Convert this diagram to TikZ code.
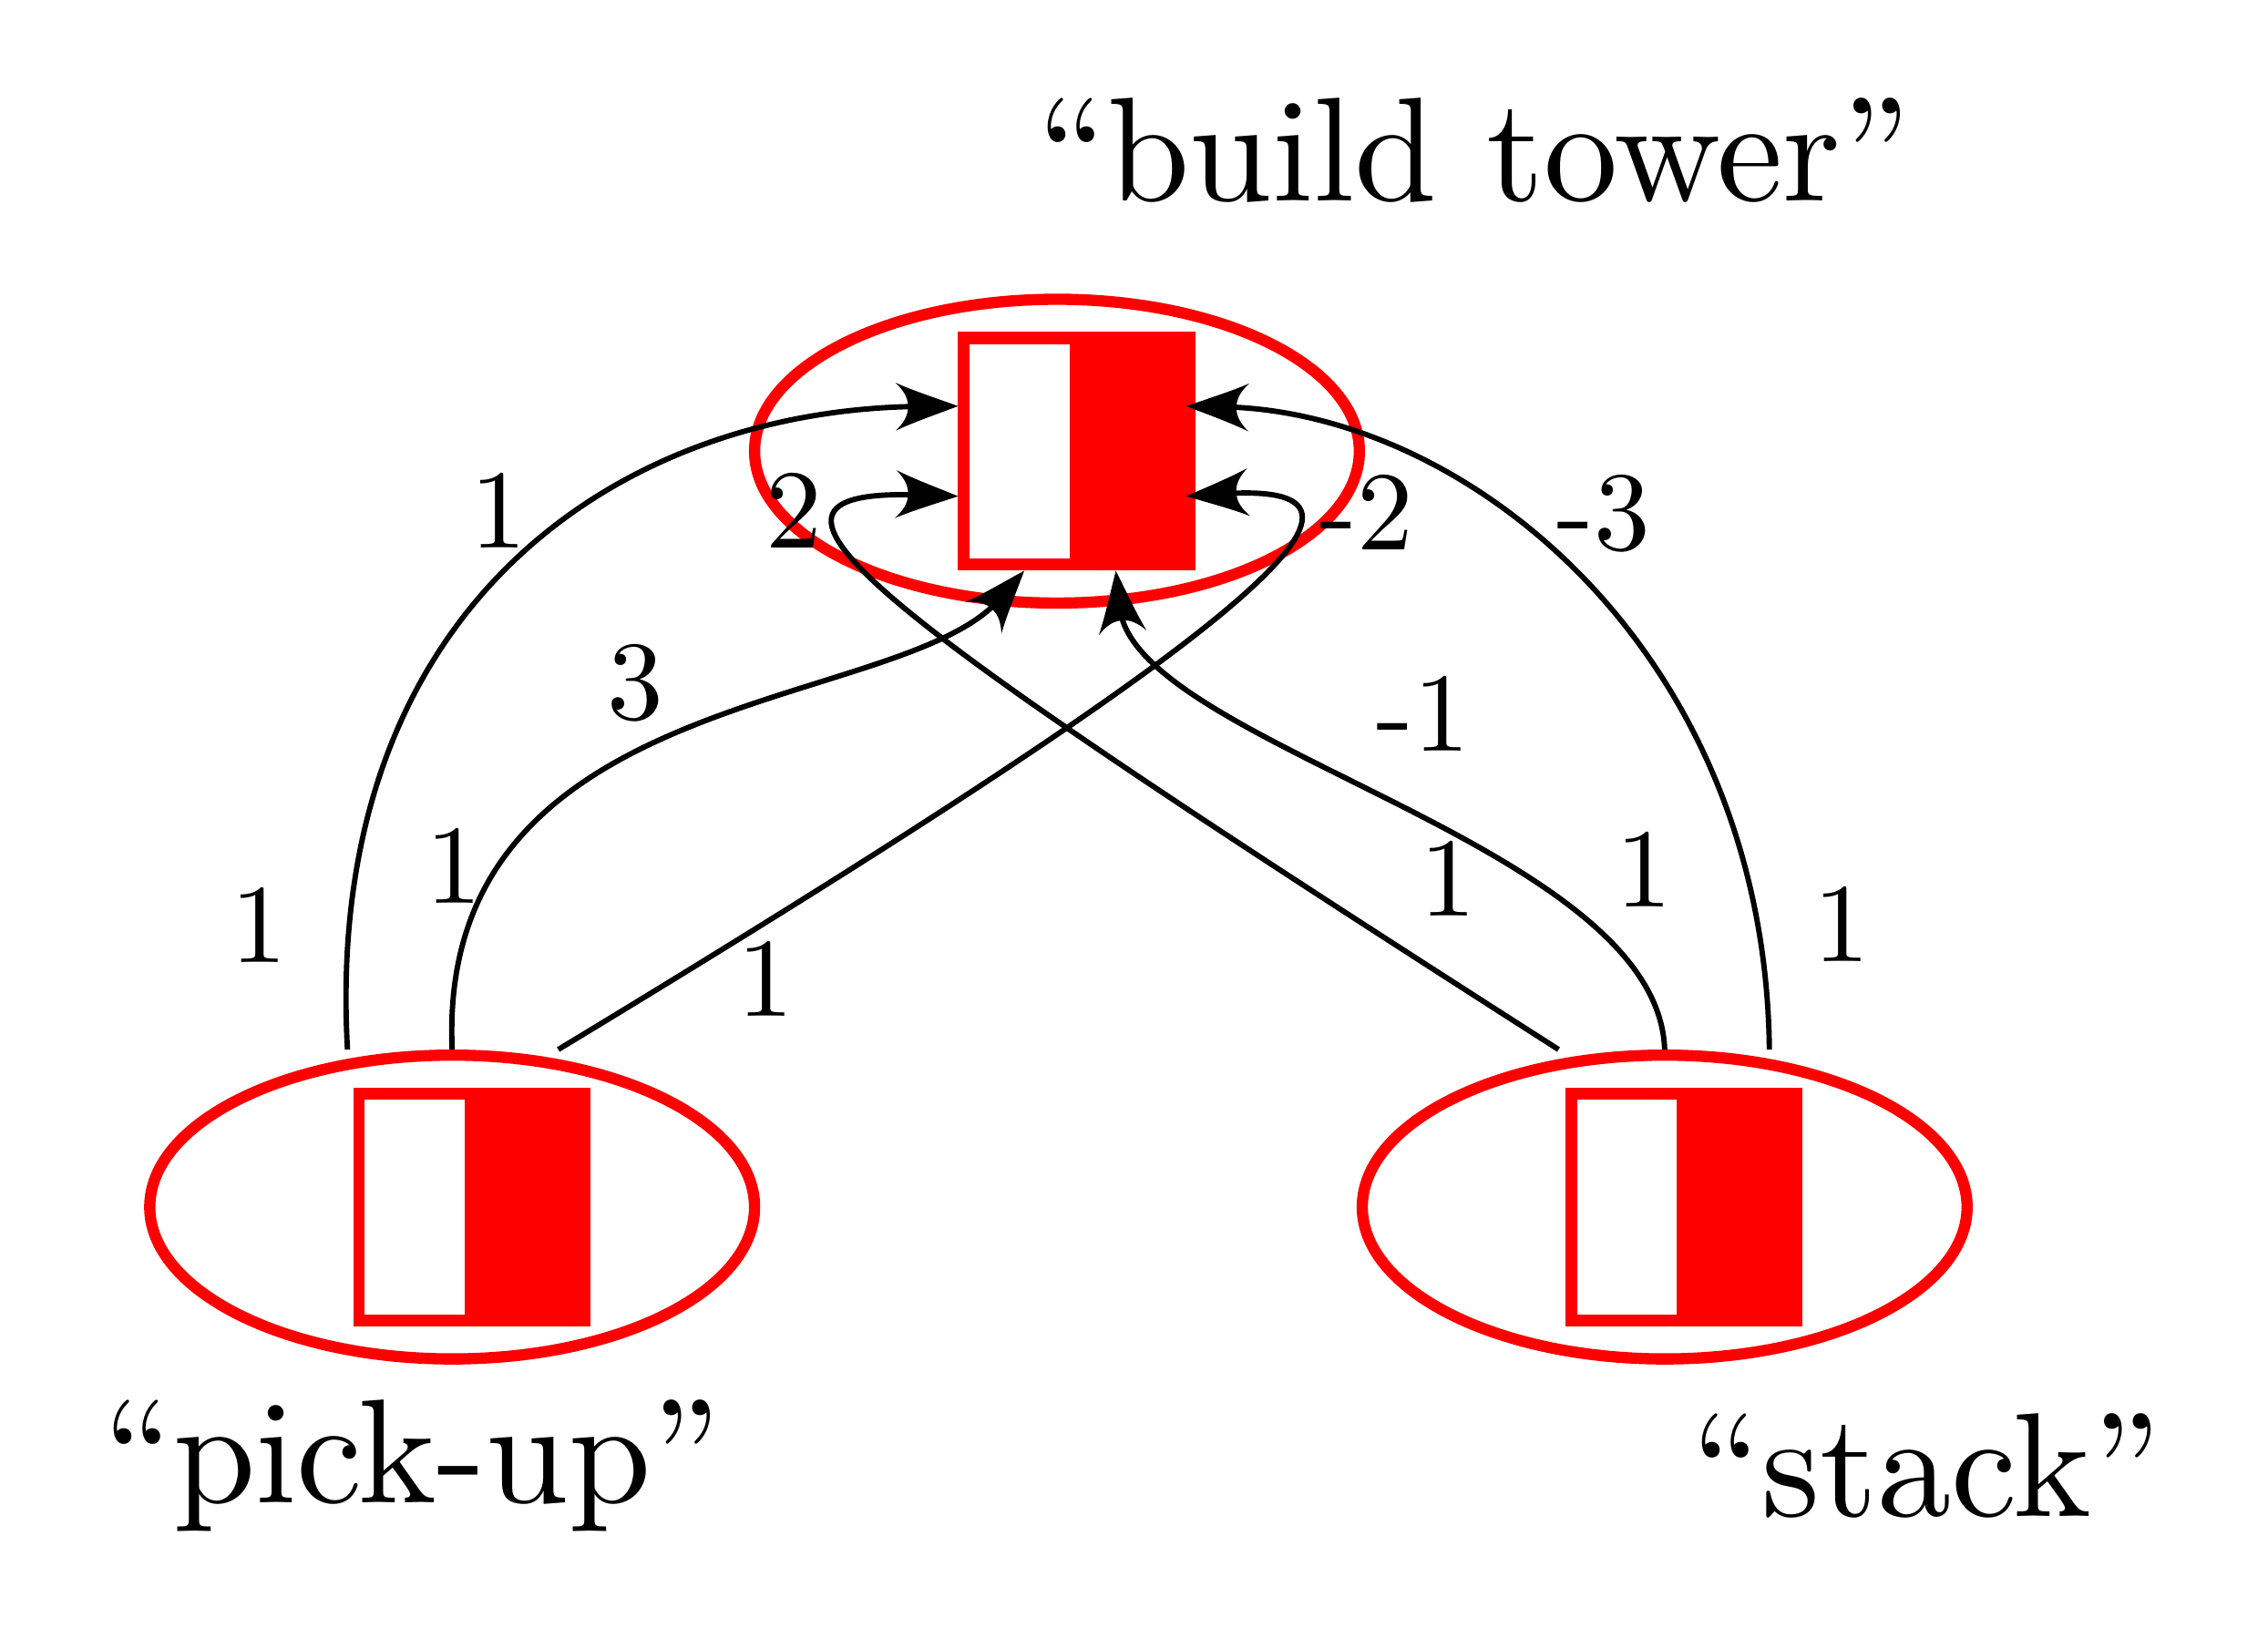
\documentclass[tikz,border=0pt]{standalone}
\usepackage{amsmath}
\usepackage{fontspec}
\usetikzlibrary{shapes.geometric,arrows.meta}

\newfontfamily\figfont{lmroman10-regular.otf}[Ligatures=TeX]

% Curved arrow head
\pgfdeclarearrow{
  name = Swoop,
  parameters = {\the\pgfarrowlength,\the\pgfarrowwidth},
  setup code = {
    \pgfarrowssettipend{0pt}
    \pgfarrowssetbackend{-\pgfarrowlength}
    \pgfarrowssetlineend{-0.6\pgfarrowlength}
    \pgfarrowshullpoint{0pt}{0pt}
    \pgfarrowshullpoint{-\pgfarrowlength}{.5\pgfarrowwidth}
    \pgfarrowshullpoint{-\pgfarrowlength}{-.5\pgfarrowwidth}
    \pgfarrowssavethe\pgfarrowlength
    \pgfarrowssavethe\pgfarrowwidth
  },
  drawing code = {
    \pgfpathmoveto{\pgfqpoint{0pt}{0pt}}
    \pgfpathcurveto{\pgfqpoint{-.35\pgfarrowlength}{.17\pgfarrowwidth}}{\pgfqpoint{-.7\pgfarrowlength}{.32\pgfarrowwidth}}{\pgfqpoint{-\pgfarrowlength}{.5\pgfarrowwidth}}
    \pgfpathcurveto{\pgfqpoint{-.88\pgfarrowlength}{.35\pgfarrowwidth}}{\pgfqpoint{-.8\pgfarrowlength}{.2\pgfarrowwidth}}{\pgfqpoint{-.8\pgfarrowlength}{0pt}}
    \pgfpathcurveto{\pgfqpoint{-.8\pgfarrowlength}{-.2\pgfarrowwidth}}{\pgfqpoint{-.88\pgfarrowlength}{-.35\pgfarrowwidth}}{\pgfqpoint{-\pgfarrowlength}{-.5\pgfarrowwidth}}
    \pgfpathcurveto{\pgfqpoint{-.7\pgfarrowlength}{-.32\pgfarrowwidth}}{\pgfqpoint{-.35\pgfarrowlength}{-.17\pgfarrowwidth}}{\pgfqpoint{0pt}{0pt}}
    \pgfpathclose
    \pgfusepathqfill
  },
  defaults = {length = 0.42cm, width = 0.31cm}
}

\tikzset{
  state/.style={ellipse, draw=red, line width=2.2pt, minimum width=4.16cm, minimum height=2.09cm, inner sep=0pt},
  halfbox/.style={rectangle, fill=red, minimum width=1.63cm, minimum height=1.645cm, inner sep=0pt, outer sep=0pt,
    path picture={\fill[white] ([shift={(0.08cm,0.085cm)}]path picture bounding box.south west) rectangle ([shift={(-0.865cm,-0.085cm)}]path picture bounding box.north east);}},
  edge/.style={line width=1.05pt, -{Swoop[length=0.43cm, width=0.33cm]}},
  weight/.style={inner sep=0pt, font=\figfont\fontsize{22}{26}\selectfont},
  title/.style={inner sep=0pt, anchor=base, font=\figfont\fontsize{29}{35}\selectfont}
}

\begin{document}
\begin{tikzpicture}
    \useasboundingbox (0,0) rectangle (15.6,11.194);
    % Draw the three states
    \node[state] (bt) at (7.27,8.09) {};
    \node[halfbox] (btbox) at ([xshift=0.135cm]bt.center) {};
    \node[state] (pu) at (3.11,2.89) {};
    \node[halfbox] (pubox) at ([xshift=0.135cm]pu.center) {};
    \node[state] (st) at (11.45,2.89) {};
    \node[halfbox] (stbox) at ([xshift=0.135cm]st.center) {};
    % Names of the states
    \node[title] (btname) at (10.14,9.81) {``build tower''};
    \node[title] (puname) at (2.835,0.854) {``pick-up''};
    \node[title] (stname) at (13.25,0.76) {``stack''};
    % Connections from pick-up
    \draw[edge] ([xshift=-0.72cm]pu.north) .. controls +(-0.17,3.02) and +(-2.36,-0.02) .. ([yshift=0.31cm]btbox.west);
    \draw[edge] (pu.north) .. controls +(-0.11,2.52) and +(-0.85,-0.98) .. ([xshift=-0.36cm]btbox.south);
    \draw[edge] ([xshift=0.73cm]pu.north) .. controls +(4.66,2.82) and +(1.68,0.11) .. ([xshift=-0.06cm,yshift=-0.31cm]btbox.east);
    % Connections from stack
    \draw[edge] ([xshift=-0.73cm]st.north) .. controls +(-4.72,3.02) and +(-1.76,0.06) .. ([yshift=-0.31cm]btbox.west);
    \draw[edge] (st.north) .. controls +(-0.05,1.42) and +(0.13,-1.20) .. ([xshift=0.27cm]btbox.south);
    \draw[edge] ([xshift=0.72cm]st.north) .. controls +(-0.03,2.72) and +(1.95,-0.04) .. ([xshift=-0.06cm,yshift=0.31cm]btbox.east);
    % Weights
    \node[weight] (wa1) at (1.78,4.83) {1};
    \node[weight] (wa2) at (3.43,7.68) {1};
    \node[weight] (wb1) at (3.124,5.236) {1};
    \node[weight] (wb2) at (4.37,6.495) {3};
    \node[weight] (wc1) at (5.265,4.46) {1};
    \node[weight] (wc2) at (9.40,7.67) {-2};
    \node[weight] (wd1) at (9.964,5.148) {1};
    \node[weight] (wd2) at (5.46,7.68) {2};
    \node[weight] (we1) at (11.307,5.213) {1};
    \node[weight] (we2) at (9.79,6.284) {-1};
    \node[weight] (wf1) at (12.667,4.838) {1};
    \node[weight] (wf2) at (11.03,7.663) {-3};
\end{tikzpicture}
\end{document}
